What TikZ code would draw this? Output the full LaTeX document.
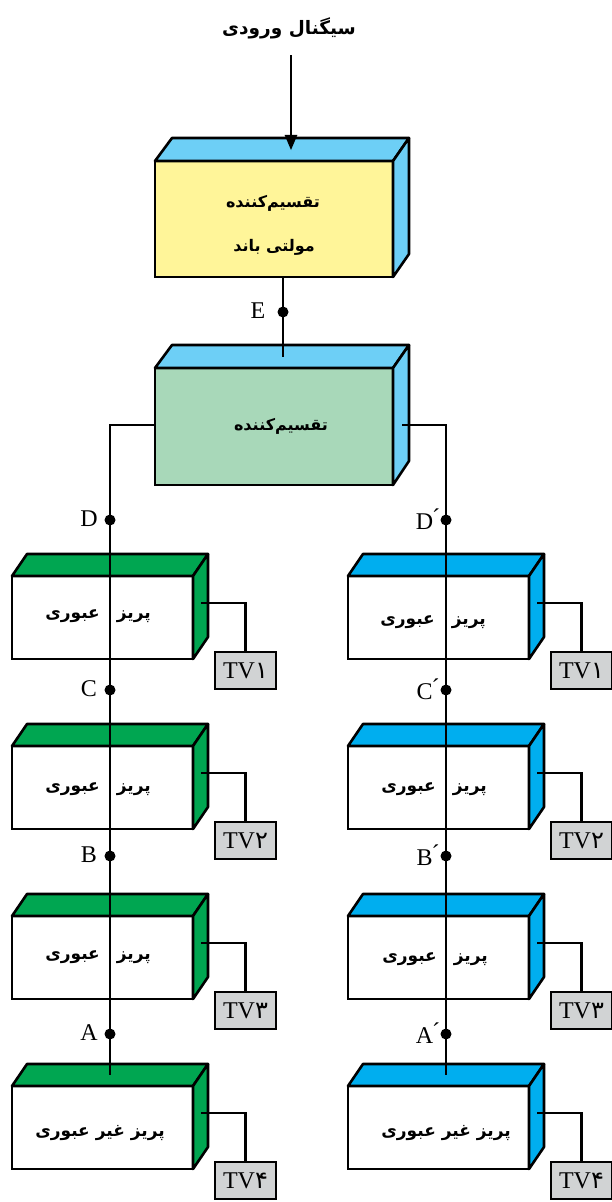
\documentclass[tikz,border=0pt]{standalone}
\usepackage{fontspec}
\setmainfont{Liberation Serif}
\newfontfamily\arabicfont[Script=Arabic]{DejaVu Sans}
\TeXXeTstate=1
\usetikzlibrary{arrows}
\newcommand{\dotsize}{11pt}
\newcommand{\fa}[2][16]{{\arabicfont\bfseries\fontsize{#1}{18}\selectfont\beginR #2\endR}}
\definecolor{skyface}{HTML}{6DCFF6}
\definecolor{cyanface}{HTML}{00AEEF}
\definecolor{greenface}{HTML}{00A651}
\definecolor{yellowfront}{HTML}{FFF599}
\definecolor{mintfront}{HTML}{A8D8B9}
\definecolor{tvgrey}{HTML}{D1D3D4}
\tikzset{
  wire/.style={line width=2.6pt},
  front/.style={draw, line width=2.6pt, outer sep=0pt, inner sep=0pt, anchor=north west},
  face/.style={draw, line width=2.6pt, line join=round},
  tv/.style={draw, line width=2.6pt, fill=tvgrey, outer sep=0pt, inner sep=0pt, minimum width=61pt, minimum height=37pt, font=\fontsize{24}{26}\selectfont},
  tapdot/.style={circle, fill=black, inner sep=0pt, minimum size=\dotsize},
  letter/.style={inner sep=0pt, font=\fontsize{24}{26}\selectfont}
}
\begin{document}
\begin{tikzpicture}[x=1pt,y=-1pt]
      \useasboundingbox (0,0) rectangle (612,1202);

          %%  splitters %%
      \node (multi) at (155,161) [front, fill=yellowfront, minimum width=238pt, minimum height=116pt] {};
      \node (split) at (155,368) [front, fill=mintfront, minimum width=238pt, minimum height=117pt] {};
      \foreach \n in {multi,split}
      { \draw[face, fill=skyface] (\n.north west) -- ++(17,-23) -- ++(237,0) -- ++(-16,23) -- cycle;
        \draw[face, fill=skyface] (\n.north east) -- ++(16,-23) -- ++(0,116) -- (\n.south east) -- cycle; }

          %%  sockets and sets, two columns %%
      \foreach \c/\x/\col/\xt in {l/12/greenface/215, r/348/cyanface/551}
      {
        \foreach \j/\y/\d in {1/576/۱, 2/746/۲, 3/916/۳, 4/1086/۴}
        {
          \node (\c\j) at (\x,\y) [front, fill=white, minimum width=181pt, minimum height=83pt] {};
          \draw[face, fill=\col] (\c\j.north west) -- ++(15,-22) -- ++(181,0) -- ++(-15,22) -- cycle;
          \draw[face, fill=\col] (\c\j.north east) -- ++(15,-22) -- ++(0,83) -- (\c\j.south east) -- cycle;
          \coordinate (tap\c\j) at ([shift={(8,27)}]\c\j.north east);
          \node (tv\c\j) at ([shift={(\xt-\x+30.5,76+18.5)}]\c\j.north west) [tv] {TV{\arabicfont\d}};
          \draw[wire] (tap\c\j) -| (tv\c\j.north);
        }
      }

          %%  trunk lines %%
      \coordinate (inp) at (291,55);
      \coordinate (inq) at (291,150);
      \draw[wire, -triangle 45] (inp) to (inq);
      \coordinate (mout) at (283,277);
      \coordinate (sin) at (283,357);
      \draw[wire] (mout) to (sin);
      \coordinate (sl) at (155,425);
      \coordinate (sr) at (402,425);
      \coordinate (el) at (110,1075);
      \coordinate (er) at (446,1075);
      \draw[wire] (sl) -| (el);
      \draw[wire] (sr) -| (er);

          %%  test points %%
      \node (dotE) at (283,312) [tapdot] {};
      \node (lblE) at (258,311) [letter] {E};
      \foreach \p/\y in {D/520, C/690, B/856, A/1034}
      {
        \node (dot\p) at (110,\y) [tapdot] {};
        \node (lbl\p) at (89,\y-1) [letter] {\p};
        \node (dotr\p) at (446,\y) [tapdot] {};
        \node (lblr\p) at (428,\y-1) [letter] {\p\kern-1pt\raisebox{4pt}{´}};
      }

          %%  texts %%
      \node (title) at (289,28) {\fa[18.5]{سیگنال ورودی}};
      \node (tm1) at (273,203) {\fa{تقسیم‌کننده}};
      \node (tm2) at (274,247) {\fa{مولتی باند}};
      \node (ts) at (281,426) {\fa{تقسیم‌کننده}};
      \node (tl1) at (98,616) {\fa[17]{پریز\quad عبوری}};
      \node (tl2) at (98,789) {\fa[17]{پریز\quad عبوری}};
      \node (tl3) at (98,957) {\fa[17]{پریز\quad عبوری}};
      \node (tl4) at (100,1133) {\fa[17]{پریز غیر عبوری}};
      \node (tr1) at (433,622) {\fa[17]{پریز\quad عبوری}};
      \node (tr2) at (434,789) {\fa[17]{پریز\quad عبوری}};
      \node (tr3) at (435,959) {\fa[17]{پریز\quad عبوری}};
      \node (tr4) at (446,1133) {\fa[17]{پریز غیر عبوری}};

\end{tikzpicture}
\end{document}
